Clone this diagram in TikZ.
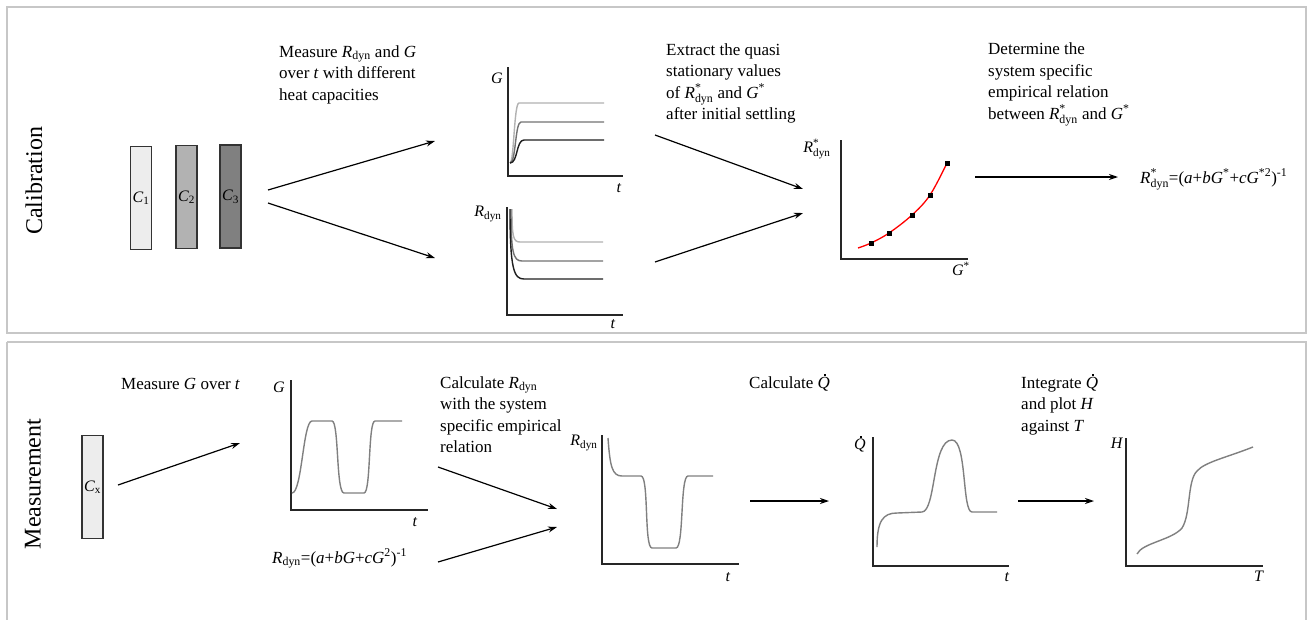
\documentclass[tikz,border=0pt]{standalone}
\usepackage{fontspec}
\setmainfont{Liberation Serif}
\usetikzlibrary{arrows.meta}
\makeatletter
\newcommand{\scr}[1]{\mbox{\fontsize\sf@size\z@\selectfont #1}}
\makeatother
\newcommand{\Rd}{\textit{R}\textsubscript{dyn}}
\newcommand{\Rst}{\textit{R}\ensuremath{^{\scr{*}}_{\scr{dyn}}}}
\newcommand{\Gst}{\textit{G}\textsuperscript{*}}
\newcommand{\Qd}{\makebox[0pt][l]{\hspace{0.38em}\rule[0.73em]{0.1em}{0.1em}}\textit{Q}}
\tikzset{
  panel/.style={draw=black!22, line width=1.3pt},
  sidelabel/.style={rotate=90, font=\fontsize{24}{28}\selectfont},
  txt/.style={anchor=north west, inner sep=0pt, align=left, font=\fontsize{17}{21.5}\selectfont},
  lbl/.style={inner sep=0pt, font=\fontsize{16}{19}\selectfont},
  cbox/.style={draw=black!80, line width=1.4pt, minimum width=21pt, minimum height=103pt, inner sep=0pt, font=\fontsize{16}{19}\selectfont},
  axis/.style={draw=black!85, line width=1.8pt},
  curve/.style={draw=black!50, line width=1.4pt},
  arr/.style={draw=black, line width=1.2pt, -{Stealth[length=9pt,width=6pt]}},
  pt/.style={fill=black, minimum size=5pt, inner sep=0pt}
}
\begin{document}
\begin{tikzpicture}[x=1pt,y=-1pt]
\useasboundingbox (0,0) rectangle (1308,619);
\fill[white] (0,0) rectangle (1308,619);
% panels
\draw[panel] (7,7) rectangle (1306,333);
\draw[panel] (7,342) -- (7,625) (7,342) -- (1306,342) -- (1306,625);
\node[sidelabel] (cal) at (34,181) {Calibration};
\node[sidelabel] (meas) at (33,484) {Measurement};

% ---------- Calibration ----------
\node[cbox, fill=black!7] (c1) at (141,198) {\textit{C}\textsubscript{1}};
\node[cbox, fill=black!30] (c2) at (186.5,197) {\textit{C}\textsubscript{2}};
\node[cbox, fill=black!50] (c3) at (230.5,196.5) {\textit{C}\textsubscript{3}};

\coordinate (a1s) at (268,190); \coordinate (a1e) at (435,141);
\coordinate (a2s) at (268,203); \coordinate (a2e) at (435,258);
\draw[arr] (a1s) -- (a1e);
\draw[arr] (a2s) -- (a2e);
\node[txt] (t1) at (279,42) {\strut Measure \Rd{} and \textit{G}\\over \textit{t} with different\\heat capacities};

% G plot
\draw[axis] (508,67) -- (508,176) -- (623,176);
\node[lbl] (gl) at (497,78) {\textit{G}};
\node[lbl] (gt) at (619,188) {\textit{t}};
\draw[line width=1.4pt, black!30] (510,163) .. controls (514,163) and (514,103) .. (519,103) -- (604,103);
\draw[line width=1.4pt, black!55] (510,163) .. controls (516,163) and (515,122) .. (521,122) -- (604,122);
\draw[line width=1.4pt, black!88] (510,163) .. controls (518,163) and (516,140) .. (524,140) -- (604,140);

% Rdyn plot
\draw[axis] (507,207) -- (507,315) -- (623,315);
\node[lbl] (rl) at (488,214) {\Rd};
\node[lbl] (rt) at (613,324) {\textit{t}};
\draw[line width=1.4pt, black!30] (512,209) .. controls (512,236) and (513,242) .. (520,242) -- (603,242);
\draw[line width=1.4pt, black!55] (511,209) .. controls (511,252) and (513,261) .. (522,261) -- (603,261);
\draw[line width=1.4pt, black!88] (510,209) .. controls (510,270) and (514,279) .. (524,279) -- (603,279);

\coordinate (a3s) at (655,135); \coordinate (a3e) at (803,189);
\coordinate (a4s) at (655,262); \coordinate (a4e) at (803,213);
\draw[arr] (a3s) -- (a3e);
\draw[arr] (a4s) -- (a4e);
\node[txt] (t2) at (666,40) {\strut Extract the quasi\\stationary values\\of \Rst{} and \Gst\\after initial settling};

% R* vs G* plot
\draw[axis] (841,140) -- (841,259) -- (968,259);
\node[lbl] (rsl) at (817,149) {\Rst};
\node[lbl] (gsl) at (961,269) {\Gst};
\draw[red, line width=1.3pt] plot[smooth, tension=0.6] coordinates {(858,248) (871,243) (889,233) (912,215) (930,195) (947,163)};
\node[pt] (p1) at (871,243) {};
\node[pt] (p2) at (889,233) {};
\node[pt] (p3) at (912,215) {};
\node[pt] (p4) at (930,195) {};
\node[pt] (p5) at (947,163) {};

\coordinate (a5s) at (975,177); \coordinate (a5e) at (1118,177);
\draw[arr] (a5s) -- (a5e);
\node[txt] (t3) at (988,39.5) {\strut Determine the\\system specific\\empirical relation\\between \Rst{} and \Gst};
\node[txt, anchor=base west] (f1) at (1140,183) {\Rst=(\textit{a}+\textit{b}\Gst+\textit{cG}\textsuperscript{*2})\textsuperscript{-1}};

% ---------- Measurement ----------
\node[cbox, fill=black!7] (cx) at (92.5,487) {\textit{C}\textsubscript{x}};
\coordinate (b1s) at (118,485); \coordinate (b1e) at (240,443);
\draw[arr] (b1s) -- (b1e);
\node[txt] (t4) at (121,374) {\strut Measure \textit{G} over \textit{t}};

% G plot
\draw[axis] (291,380) -- (291,510) -- (428,510);
\node[lbl] (bgl) at (279,387) {\textit{G}};
\node[lbl] (bgt) at (415,522) {\textit{t}};
\draw[curve] (292,493) .. controls (302,493) and (303,421) .. (312,421) -- (332,421) .. controls (339,421) and (336,493) .. (344,493) -- (364,493) .. controls (371,493) and (368,421) .. (375,421) -- (402,421);

\node[txt, anchor=base west] (f2) at (272,563) {\Rd=(\textit{a}+\textit{bG}+\textit{cG}\textsuperscript{2})\textsuperscript{-1}};
\coordinate (b2s) at (438,467); \coordinate (b2e) at (557,509);
\coordinate (b3s) at (438,562); \coordinate (b3e) at (557,527);
\draw[arr] (b2s) -- (b2e);
\draw[arr] (b3s) -- (b3e);
\node[txt] (t5) at (440,373) {\strut Calculate \Rd\\with the system\\specific empirical\\relation};

% Rdyn plot
\draw[axis] (602,435) -- (602,564) -- (739,564);
\node[lbl] (brl) at (584,443) {\Rd};
\node[lbl] (brt) at (728,577) {\textit{t}};
\draw[curve] (608,438) .. controls (610,466) and (612,476) .. (622,476) -- (641,476) .. controls (649,476) and (644,548) .. (652,548) -- (676,548) .. controls (684,548) and (680,476) .. (688,476) -- (713,476);

\coordinate (b4s) at (750,501); \coordinate (b4e) at (829,501);
\draw[arr] (b4s) -- (b4e);
\node[txt] (t6) at (749,373) {\strut Calculate \Qd};

% Qdot plot
\draw[axis] (873,437) -- (873,566) -- (1009,566);
\node[lbl] (bql) at (860,444) {\Qd};
\node[lbl] (bqt) at (1007,577) {\textit{t}};
\draw[curve] (877,547) .. controls (877,521) and (883,513) .. (897,513) -- (922,512) .. controls (936,511) and (932,440) .. (952,440) .. controls (967,440) and (962,512) .. (972,512) -- (997,512);

\coordinate (b5s) at (1018,501); \coordinate (b5e) at (1094,501);
\draw[arr] (b5s) -- (b5e);
\node[txt] (t7) at (1021,373) {\strut Integrate \Qd\\and plot \textit{H}\\against \textit{T}};

% H plot
\draw[axis] (1126,438) -- (1126,566) -- (1263,566);
\node[lbl] (bhl) at (1117,443) {\textit{H}};
\node[lbl] (bht) at (1259,576) {\textit{T}};
\draw[curve] (1137,554) .. controls (1142,543) and (1172,540) .. (1182,528) .. controls (1191,514) and (1187,481) .. (1197,471) .. controls (1205,462) and (1225,458) .. (1253,447);
\end{tikzpicture}
\end{document}
